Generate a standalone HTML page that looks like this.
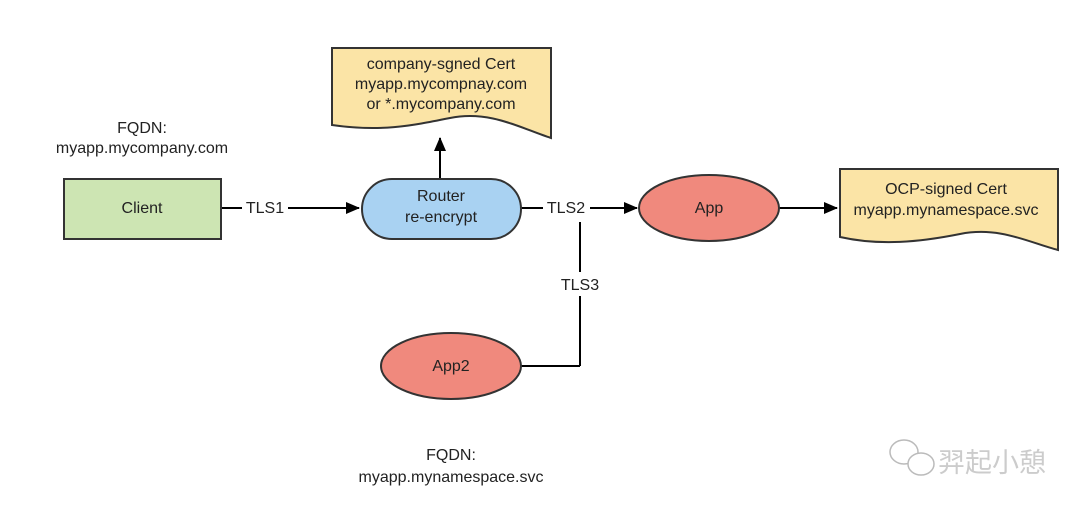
<!DOCTYPE html>
<html><head><meta charset="utf-8"><style>
body{margin:0;background:#fff;}
svg{display:block;font-family:"Liberation Sans",sans-serif;}
</style></head><body>
<svg width="1080" height="511" viewBox="0 0 1080 511">
<defs>
<marker id="b" markerWidth="14" markerHeight="12" refX="13" refY="6" orient="auto" markerUnits="userSpaceOnUse"><path d="M0,0 L14,6 L0,12 z" fill="#000"/></marker></defs>
<g font-size="16" fill="#222" text-anchor="middle">
<text x="142" y="133">FQDN:</text><text x="142" y="153">myapp.mycompany.com</text>
<text x="451" y="460">FQDN:</text><text x="451" y="482">myapp.mynamespace.svc</text>
</g>
<path d="M332,48 L551,48 L551,138 C520,128 490,110 450,118 C410,126 380,132 332,125 Z" fill="#fbe4a6" stroke="#333" stroke-width="2"/>
<g font-size="16" fill="#222" text-anchor="middle">
<text x="441" y="69">company-sgned Cert</text><text x="441" y="89">myapp.mycompnay.com</text><text x="441" y="109">or *.mycompany.com</text>
</g>
<path d="M840,169 L1058,169 L1058,250 C1030,243 1000,226 960,234 C920,242 880,246 840,237 Z" fill="#fbe4a6" stroke="#333" stroke-width="2"/>
<g font-size="16" fill="#222" text-anchor="middle">
<text x="946" y="194">OCP-signed Cert</text><text x="946" y="215">myapp.mynamespace.svc</text>
</g>
<g stroke="#000" stroke-width="2" fill="none">
<line x1="221" y1="208" x2="242" y2="208"/><line x1="288" y1="208" x2="359" y2="208" marker-end="url(#b)"/>
<line x1="521" y1="208" x2="543" y2="208"/><line x1="590" y1="208" x2="637" y2="208" marker-end="url(#b)"/>
<line x1="440" y1="179" x2="440" y2="138" marker-end="url(#b)"/>
<line x1="779" y1="208" x2="837" y2="208" marker-end="url(#b)"/>
<line x1="580" y1="222" x2="580" y2="272"/><line x1="580" y1="296" x2="580" y2="366"/>
<line x1="521" y1="366" x2="580" y2="366"/>
</g>
<g font-size="16" fill="#222" text-anchor="middle">
<text x="265" y="213">TLS1</text><text x="566" y="213">TLS2</text><text x="580" y="290">TLS3</text>
</g>
<rect x="64" y="179" width="157" height="60" fill="#cde5b3" stroke="#333" stroke-width="2"/>
<text x="142" y="213" font-size="16" text-anchor="middle" fill="#222">Client</text>
<rect x="362" y="179" width="159" height="60" rx="30" fill="#a9d2f2" stroke="#333" stroke-width="2"/>
<text x="441" y="201" font-size="16" text-anchor="middle" fill="#222">Router</text>
<text x="441" y="222" font-size="16" text-anchor="middle" fill="#222">re-encrypt</text>
<ellipse cx="709" cy="208" rx="70" ry="33" fill="#f0897d" stroke="#333" stroke-width="2"/>
<text x="709" y="213" font-size="16" text-anchor="middle" fill="#222">App</text>
<ellipse cx="451" cy="366" rx="70" ry="33" fill="#f0897d" stroke="#333" stroke-width="2"/>
<text x="451" y="371" font-size="16" text-anchor="middle" fill="#222">App2</text>
<g fill="none" stroke="#bbb" stroke-width="1.5">
<ellipse cx="904" cy="452" rx="14" ry="12"/><ellipse cx="921" cy="464" rx="13" ry="11" fill="#fff"/>
</g>
<text x="938" y="472" font-family="'Liberation Sans','Noto Sans CJK SC',sans-serif" font-size="27" fill="#ccc">羿起小憩</text>
</svg>
</body></html>
